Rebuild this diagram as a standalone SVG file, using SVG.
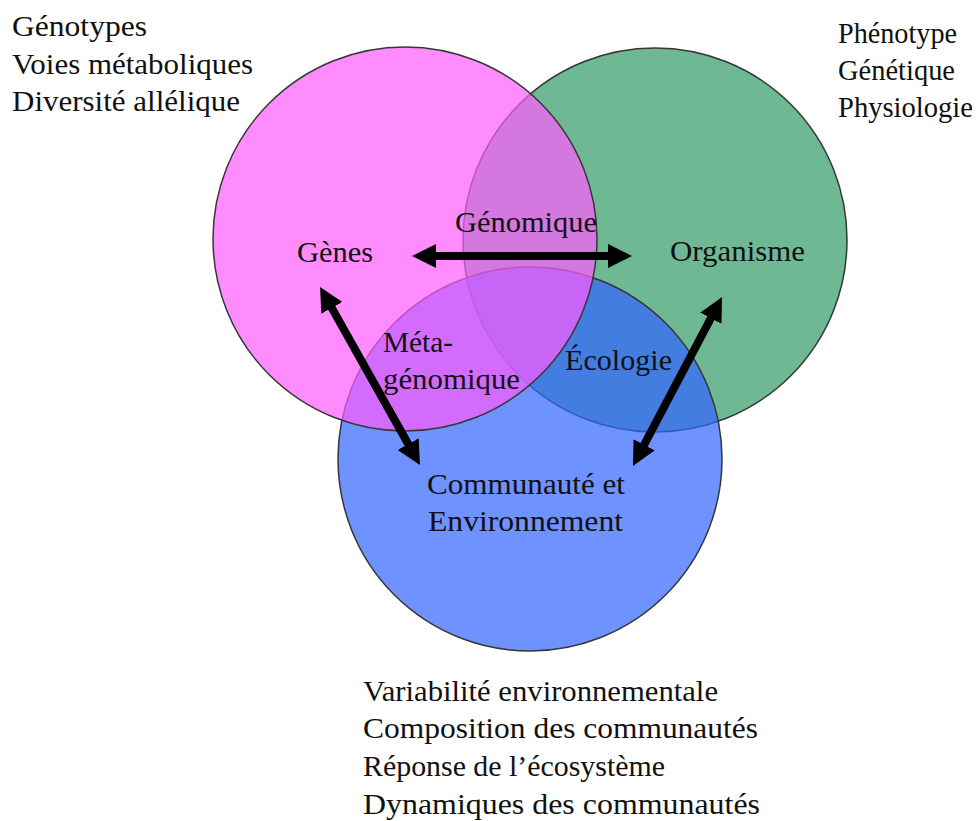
<svg xmlns="http://www.w3.org/2000/svg" width="978" height="821" viewBox="0 0 978 821">
  <style>
    .ring { stroke: #363636; stroke-width: 1.5; }
    text { font-family: "Liberation Serif", "Times New Roman", Tinos, "Noto Serif", "DejaVu Serif", FreeSerif, "Nimbus Roman", Times, serif; font-size: 29px; fill: #111111; }
    .arrow { stroke: #000000; stroke-width: 8; fill: none; marker-start: url(#head); marker-end: url(#head); }
  </style>
  <defs>
    <marker id="head" markerUnits="userSpaceOnUse" viewBox="0 0 24 24" markerWidth="24" markerHeight="24" refX="10" refY="12" orient="auto-start-reverse">
      <path d="M0,0 L24,12 L0,24 Z" fill="#000000"/>
    </marker>
  </defs>
  <rect x="0" y="0" width="978" height="821" fill="#ffffff"/>

  <g id="node-organisme">
    <circle class="ring" cx="655" cy="240" r="192" fill="#6EB894"/>
  </g>
  <g id="node-communaute">
    <circle class="ring" cx="530" cy="459" r="192" fill="#3365FF" fill-opacity="0.71"/>
  </g>
  <g id="node-genes">
    <circle class="ring" cx="405" cy="239" r="192" fill="#FF5BFF" fill-opacity="0.7"/>
  </g>

  <g id="labels-inner">
    <text x="297" y="262" textLength="76" lengthAdjust="spacingAndGlyphs">Gènes</text>
    <text x="455" y="232" textLength="142" lengthAdjust="spacingAndGlyphs">Génomique</text>
    <text x="670" y="261" textLength="135" lengthAdjust="spacingAndGlyphs">Organisme</text>
    <text x="383" y="352" textLength="70" lengthAdjust="spacingAndGlyphs">Méta-</text>
    <text x="383" y="389" textLength="137" lengthAdjust="spacingAndGlyphs">génomique</text>
    <text x="565" y="370" textLength="107" lengthAdjust="spacingAndGlyphs">Écologie</text>
    <text x="427" y="494" textLength="198" lengthAdjust="spacingAndGlyphs">Communauté et</text>
    <text x="428" y="531" textLength="195" lengthAdjust="spacingAndGlyphs">Environnement</text>
  </g>

  <g id="connectors">
    <line class="arrow" x1="426" y1="256" x2="618" y2="256"/>
    <line class="arrow" x1="326.9" y1="299.2" x2="413.1" y2="452.8"/>
    <line class="arrow" x1="715.5" y1="309.4" x2="639.5" y2="453.6"/>
  </g>

  <g id="list-genes">
    <text x="12" y="36" textLength="135" lengthAdjust="spacingAndGlyphs">Génotypes</text>
    <text x="12" y="74" textLength="241" lengthAdjust="spacingAndGlyphs">Voies métaboliques</text>
    <text x="12" y="111" textLength="228" lengthAdjust="spacingAndGlyphs">Diversité allélique</text>
  </g>
  <g id="list-organisme">
    <text x="838" y="43" textLength="119" lengthAdjust="spacingAndGlyphs">Phénotype</text>
    <text x="838" y="80" textLength="117" lengthAdjust="spacingAndGlyphs">Génétique</text>
    <text x="838" y="117" textLength="135" lengthAdjust="spacingAndGlyphs">Physiologie</text>
  </g>
  <g id="list-communaute">
    <text x="363" y="701" textLength="355" lengthAdjust="spacingAndGlyphs">Variabilité environnementale</text>
    <text x="363" y="738" textLength="395" lengthAdjust="spacingAndGlyphs">Composition des communautés</text>
    <text x="363" y="776" textLength="302" lengthAdjust="spacingAndGlyphs">Réponse de l’écosystème</text>
    <text x="363" y="814" textLength="397" lengthAdjust="spacingAndGlyphs">Dynamiques des communautés</text>
  </g>
</svg>
